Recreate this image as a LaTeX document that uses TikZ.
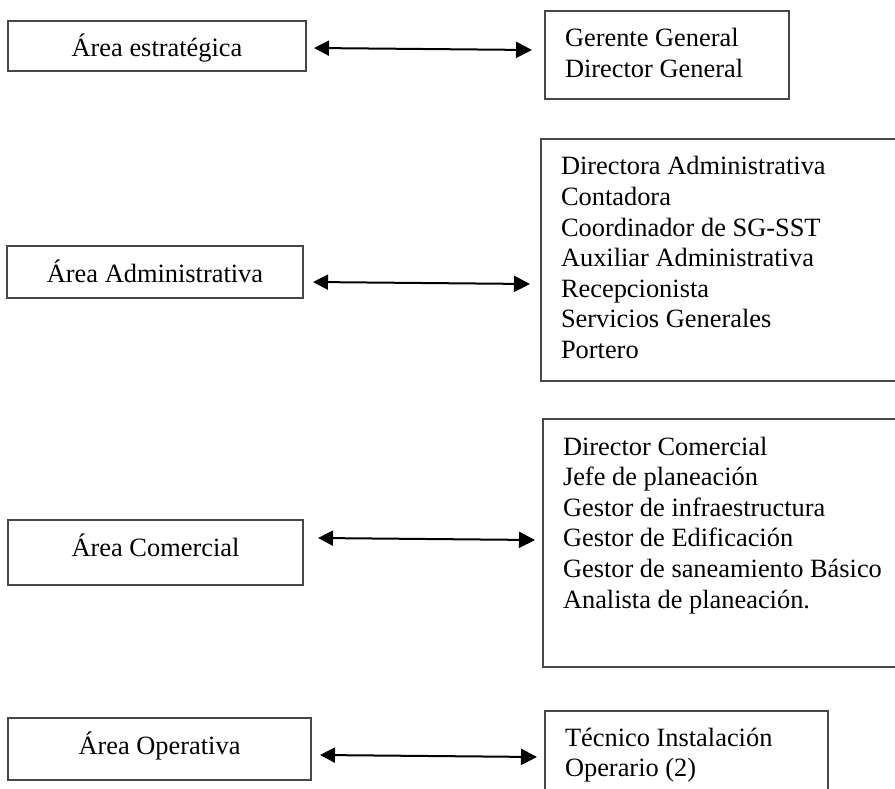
\documentclass[tikz,border=0pt]{standalone}
\usepackage{fontspec}
\setmainfont{Liberation Serif}
\usetikzlibrary{arrows.meta}
\tikzset{
  box/.style={draw=black!72, line width=1.3pt, rectangle, inner sep=0pt, outer sep=0pt, anchor=north west},
  txt/.style={font=\fontsize{26.4pt}{30.6pt}\selectfont, inner sep=0pt, outer sep=0pt},
  biarrow/.style={line width=2pt, {Triangle[length=15pt,width=15pt]}-{Triangle[length=16pt,width=16pt]}}
}
\newcommand{\mylines}[1]{\begin{tabular}[t]{@{}l@{}}#1\end{tabular}}
\begin{document}
\begin{tikzpicture}[x=1pt,y=-1pt]
\useasboundingbox (0,0) rectangle (895,789);
\begin{scope}
\clip (0,0) rectangle (895,789);
% left boxes
\node[box, minimum width=298pt, minimum height=50pt] (L1) at (8,21) {};
\node[box, minimum width=296pt, minimum height=52pt] (L2) at (7,246) {};
\node[box, minimum width=295pt, minimum height=65pt] (L3) at (8,520) {};
\node[box, minimum width=303pt, minimum height=62pt] (L4) at (8,718) {};
\node[txt, anchor=base] (L1t) at ([yshift=-36pt]L1.north) {Área estratégica};
\node[txt, anchor=base] (L2t) at ([yshift=-36pt]L2.north) {Área Administrativa};
\node[txt, anchor=base] (L3t) at ([yshift=-36pt]L3.north) {Área Comercial};
\node[txt, anchor=base] (L4t) at ([yshift=-36pt]L4.north) {Área Operativa};
% right boxes
\node[box, minimum width=244pt, minimum height=88pt] (R1) at (545,11) {};
\node[box, minimum width=380pt, minimum height=242pt] (R2) at (541,139) {};
\node[box, minimum width=380pt, minimum height=248pt] (R3) at (543,419) {};
\node[box, minimum width=283pt, minimum height=100pt] (R4) at (545,711) {};
\node[txt, anchor=base west] (R1t) at ([xshift=20pt,yshift=-36pt]R1.north west)
  {\mylines{Gerente General\\Director General}};
\node[txt, anchor=base west] (R2t) at ([xshift=20pt,yshift=-36pt]R2.north west)
  {\mylines{Directora Administrativa\\Contadora\\Coordinador de SG-SST\\Auxiliar Administrativa\\Recepcionista\\Servicios Generales\\Portero}};
\node[txt, anchor=base west] (R3t) at ([xshift=20pt,yshift=-36pt]R3.north west)
  {\mylines{Director Comercial\\Jefe de planeación\\Gestor de infraestructura\\Gestor de Edificación\\Gestor de saneamiento Básico\\Analista de planeación.}};
\node[txt, anchor=base west] (R4t) at ([xshift=20pt,yshift=-35pt]R4.north west)
  {\mylines{Técnico Instalación\\Operario (2)}};
% arrow end points
\coordinate (a1l) at (314,48);  \coordinate (a1r) at (532,50);
\coordinate (a2l) at (313,282); \coordinate (a2r) at (530,284);
\coordinate (a3l) at (318,538); \coordinate (a3r) at (535,540);
\coordinate (a4l) at (320,755); \coordinate (a4r) at (537,757);
\draw[biarrow] (a1l) -- (a1r);
\draw[biarrow] (a2l) -- (a2r);
\draw[biarrow] (a3l) -- (a3r);
\draw[biarrow] (a4l) -- (a4r);
\end{scope}
\end{tikzpicture}
\end{document}
